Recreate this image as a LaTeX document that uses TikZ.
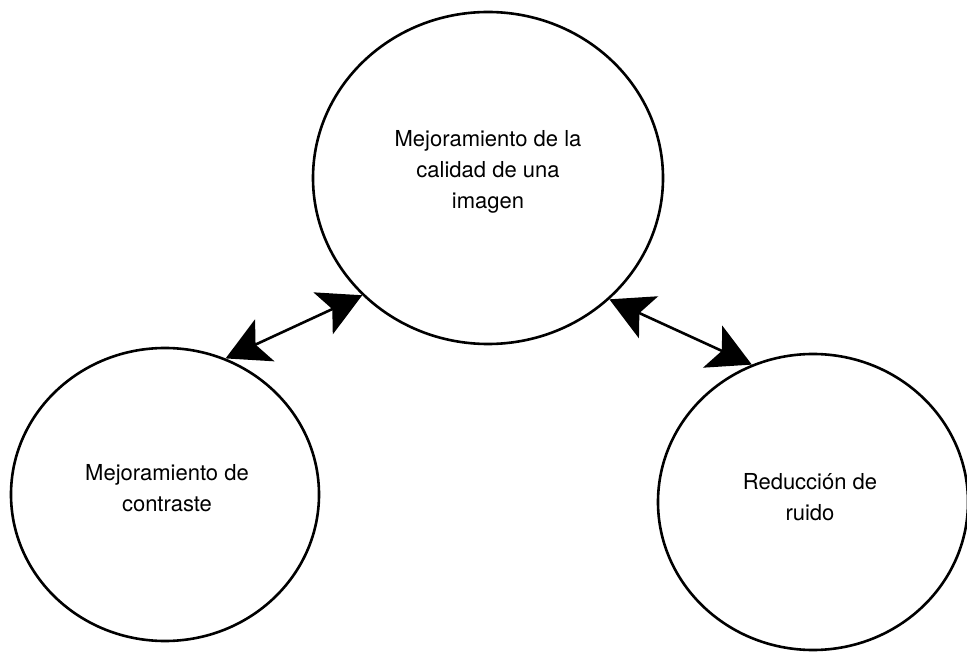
\documentclass[tikz,border=0pt]{standalone}
\usepackage{fontspec}
\setmainfont{TeX Gyre Heros}
\usetikzlibrary{shapes.geometric,arrows.meta}
\begin{document}
\begin{tikzpicture}[x=1pt,y=-1pt,
  bubble/.style={ellipse,draw=black,line width=2.6pt,inner sep=0pt,fill=white},
  caption/.style={align=center,font=\fontsize{22}{31}\selectfont,inner sep=0pt},
  link/.style={line width=2.6pt,{Stealth[length=43pt,width=46pt,inset=10pt]}-{Stealth[length=43pt,width=46pt,inset=10pt]}}]
  \useasboundingbox (0,0) rectangle (967,652);
  % three topic bubbles
  \node[bubble,minimum width=350pt,minimum height=332pt] (top) at (488,178) {};
  \node[bubble,minimum width=308pt,minimum height=293pt] (left) at (165,494.5) {};
  \node[bubble,minimum width=310pt,minimum height=296pt] (right) at (813,502) {};
  % their captions
  \node[caption] (toptext) at (488,172) {Mejoramiento de la\\calidad de una\\imagen};
  \node[caption] (lefttext) at (167,488) {Mejoramiento de\\contraste};
  \node[caption] (righttext) at (810,497) {Reducción de\\ruido};
  % two-way links
  \draw[link] (left.66.3) -- (top.223.6);
  \draw[link] (top.315.9) -- (right.114.4);
\end{tikzpicture}
\end{document}
